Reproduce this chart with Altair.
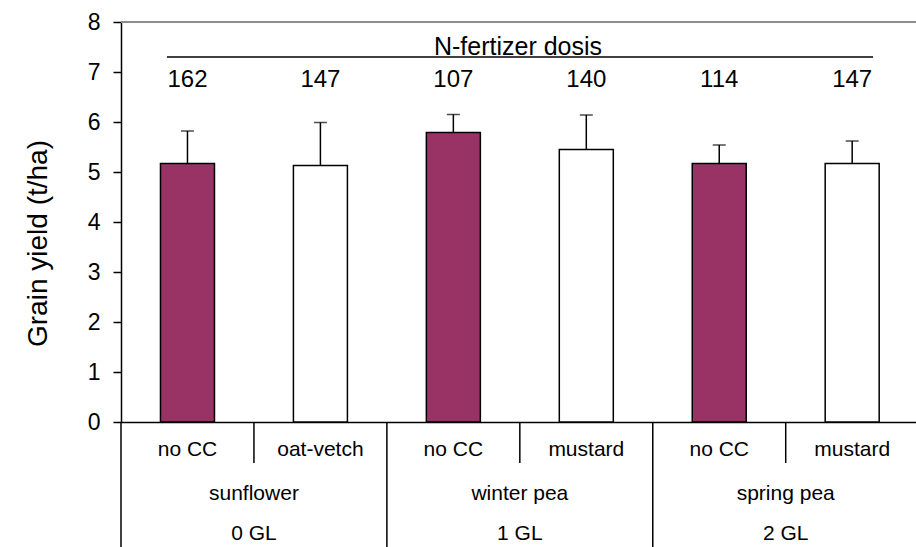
import altair as alt
import pandas as pd

# ---- data ----
cover_crops = ["no CC", "oat-vetch", "no CC", "mustard", "no CC", "mustard"]
grain_yield = [5.17, 5.13, 5.79, 5.45, 5.17, 5.17]
yield_err = [0.65, 0.86, 0.36, 0.69, 0.37, 0.45]
n_dose = [162, 147, 107, 140, 114, 147]
preceding_crops = ["sunflower", "winter pea", "spring pea"]
gl_levels = ["0 GL", "1 GL", "2 GL"]

PURPLE = "#993366"
FONT = "Liberation Sans"

bars_df = pd.DataFrame({
    "pos": [i + 0.5 for i in range(len(cover_crops))],
    "cc": cover_crops,
    "yield": grain_yield,
    "top": [v + e for v, e in zip(grain_yield, yield_err)],
    "dose": [str(d) for d in n_dose],
    "fill": [PURPLE if c == "no CC" else "white" for c in cover_crops],
})
groups_df = pd.DataFrame({
    "center": [2 * i + 1 for i in range(len(preceding_crops))],
    "crop": preceding_crops,
    "gl": gl_levels,
    "left": [2 * i for i in range(len(preceding_crops))],
})

# the last slot runs slightly past the right edge of the picture
xscale = alt.Scale(domain=[0, 5.98], nice=False, zero=False, padding=0)
xaxis = alt.Axis(labels=False, ticks=False, grid=False, domainColor="black",
                 domainWidth=1.5, title=None, offset=0)
yscale = alt.Scale(domain=[0, 8], nice=False, padding=0)
yaxis = alt.Axis(values=list(range(0, 9)), format="d", grid=False, offset=0,
                 domainColor="black", domainWidth=1.5, tickColor="black",
                 tickWidth=1.5, tickSize=8, labelPadding=13, labelFontSize=23,
                 labelColor="black", labelFont=FONT,
                 titleFontSize=28, titleFontWeight="normal", titleColor="black",
                 titleFont=FONT, titleAngle=270, titleX=-75, titleY=221,
                 titleAlign="center", titleBaseline="alphabetic")
YTITLE = "Grain yield (t/ha)"

def X(field):
    return alt.X(field, scale=xscale, axis=xaxis, title=None)

def Y(field):
    return alt.Y(field, scale=yscale, axis=yaxis, title=YTITLE)

base = alt.Chart(bars_df)

bars = base.mark_bar(size=54, stroke="black", strokeWidth=1.5).encode(
    x=X("pos:Q"), y=Y("yield:Q"), fill=alt.Fill("fill:N", scale=None)
)
err_line = base.mark_rule(color="black", strokeWidth=1.5).encode(
    x=X("pos:Q"), y=Y("yield:Q"), y2="top:Q"
)
caps = base.mark_tick(orient="horizontal", size=13, thickness=1.5, color="black").encode(
    x=X("pos:Q"), y=Y("top:Q")
)
doses = base.mark_text(fontSize=24, font=FONT, baseline="alphabetic", color="black").encode(
    x=X("pos:Q"), y=alt.value(65), text="dose:N"
)
dose_title = alt.Chart(pd.DataFrame({"t": ["N-fertizer dosis"]})).mark_text(
    fontSize=25, font=FONT, baseline="alphabetic", color="black"
).encode(x=alt.value(397), y=alt.value(33), text="t:N")
dose_line = alt.Chart(pd.DataFrame({"a": [0]})).mark_rule(color="black", strokeWidth=1.5).encode(
    x=alt.value(46), x2=alt.value(752), y=alt.value(35)
)
top_border = alt.Chart(pd.DataFrame({"a": [0]})).mark_rule(color="#8c8c8c", strokeWidth=2).encode(
    x=alt.value(0), x2=alt.value(795), y=alt.value(0)
)
cc_labels = base.mark_text(fontSize=21, font=FONT, baseline="alphabetic", color="black").encode(
    x=X("pos:Q"), y=alt.value(434), text="cc:N"
)
crop_labels = alt.Chart(groups_df).mark_text(fontSize=21, font=FONT, baseline="alphabetic", color="black").encode(
    x=X("center:Q"), y=alt.value(478), text="crop:N"
)
gl_labels = alt.Chart(groups_df).mark_text(fontSize=21, font=FONT, baseline="alphabetic", color="black").encode(
    x=X("center:Q"), y=alt.value(518), text="gl:N"
)
sub_sep = alt.Chart(groups_df).mark_rule(color="black", strokeWidth=1.5).encode(
    x=X("center:Q"), y=alt.value(400), y2=alt.value(441)
)
grp_sep = alt.Chart(groups_df).mark_rule(color="black", strokeWidth=1.5).encode(
    x=X("left:Q"), y=alt.value(400), y2=alt.value(530)
)

chart = alt.layer(
    top_border, bars, err_line, caps, doses, dose_line, dose_title,
    cc_labels, crop_labels, gl_labels, sub_sep, grp_sep
).properties(
    width=795, height=400,
    padding={"left": 121, "top": 22, "right": 0, "bottom": 125},
    autosize=alt.AutoSizeParams(type="none"),
    background="white",
).configure(font=FONT).configure_view(stroke=None)

chart.save("out.html", embed_options={"renderer": "svg", "actions": False})
